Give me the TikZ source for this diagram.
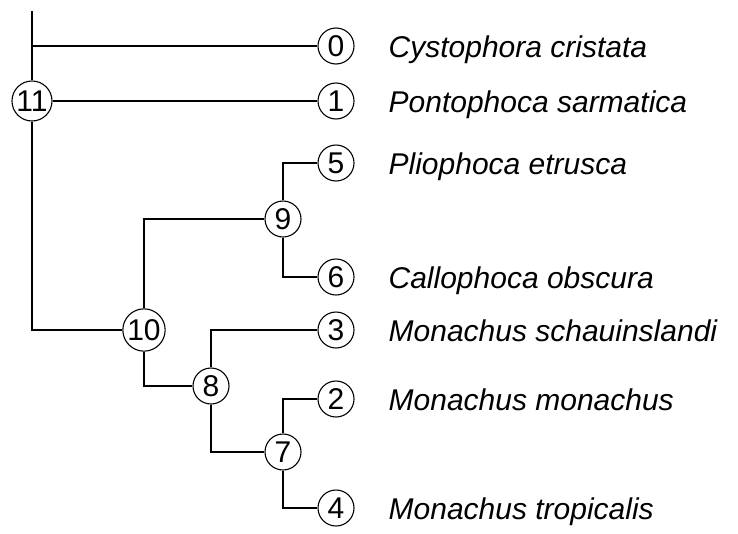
\documentclass[tikz,border=0pt]{standalone}
\usepackage{fontspec}
\setmainfont{Liberation Sans}
\begin{document}
\begin{tikzpicture}[x=1pt,y=-1pt,
  every path/.style={line width=1.3pt},
  num/.style={draw,circle,line width=1.1pt,minimum size=36pt,inner sep=1pt,
    font=\fontsize{30}{34}\selectfont},
  lab/.style={anchor=base west,inner sep=0pt,
    font=\fontsize{30}{34}\selectfont\itshape}]
\useasboundingbox (0,0) rectangle (738,533);
\coordinate (top) at (32,11);
\node[num] (n11) at (32,101) {11};
\node[num] (n0) at (336,46) {0};
\node[num] (n1) at (336,101) {1};
\node[num] (n5) at (336,163) {5};
\node[num] (n9) at (283,219) {9};
\node[num] (n6) at (336,277) {6};
\node[num] (n10) at (144,330) {10};
\node[num] (n3) at (336,330) {3};
\node[num] (n8) at (211,386) {8};
\node[num] (n2) at (336,399) {2};
\node[num] (n7) at (283,452) {7};
\node[num] (n4) at (336,508) {4};
\node[lab] (l0) at (388,57) {Cystophora cristata};
\node[lab] (l1) at (388,112) {Pontophoca sarmatica};
\node[lab] (l5) at (388,174) {Pliophoca etrusca};
\node[lab] (l6) at (388,288) {Callophoca obscura};
\node[lab] (l3) at (388,341) {Monachus schauinslandi};
\node[lab] (l2) at (388,410) {Monachus monachus};
\node[lab] (l4) at (388,519) {Monachus tropicalis};
\draw (top) -- (n11);
\draw (top |- n0) -- (n0);
\draw (n11) -- (n1);
\draw (n11) -- (n11 |- n10) -- (n10);
\draw (n10) -- (n10 |- n9) -- (n9);
\draw (n10) -- (n10 |- n8) -- (n8);
\draw (n9) -- (n9 |- n5) -- (n5);
\draw (n9) -- (n9 |- n6) -- (n6);
\draw (n8) -- (n8 |- n3) -- (n3);
\draw (n8) -- (n8 |- n7) -- (n7);
\draw (n7) -- (n7 |- n2) -- (n2);
\draw (n7) -- (n7 |- n4) -- (n4);
\end{tikzpicture}
\end{document}
